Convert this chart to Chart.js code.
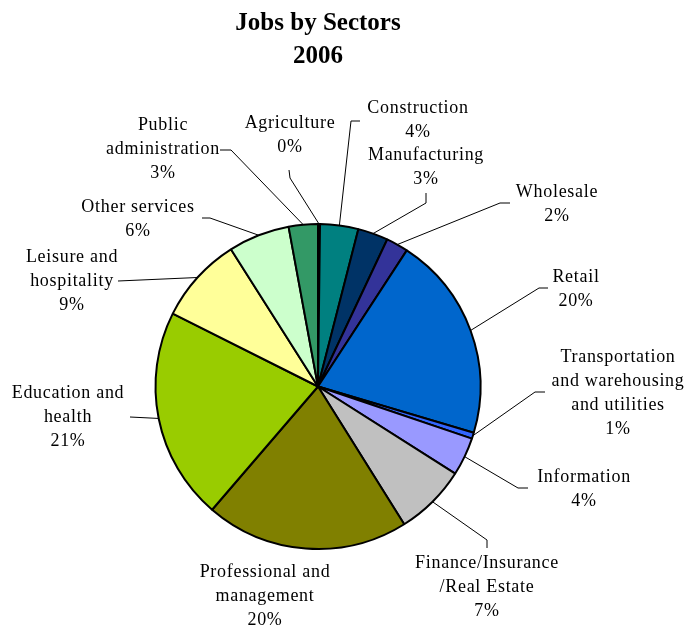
<!DOCTYPE html>
<html>
<head>
<meta charset="utf-8">
<script src="https://cdn.jsdelivr.net/npm/chart.js@4"></script>
<style>
  html, body { margin: 0; padding: 0; background: #fff; }
</style>
</head>
<body>
<canvas id="chart" width="688" height="629"></canvas>
<script>
// data (share of jobs, %)
const categories = [
    ['Agriculture'],
    ['Construction'],
    ['Manufacturing'],
    ['Wholesale'],
    ['Retail'],
    ['Transportation', 'and warehousing', 'and utilities'],
    ['Information'],
    ['Finance/Insurance', '/Real Estate'],
    ['Professional and', 'management'],
    ['Education and', 'health'],
    ['Leisure and', 'hospitality'],
    ['Other services'],
    ['Public', 'administration']
];
const shares = [0.2, 3.8, 3.0, 2.2, 20.4, 0.6, 3.8, 7.1, 20.2, 21.1, 8.6, 6.1, 2.9];
const colors = ['#FFFF99', '#008080', '#003366', '#333399', '#0066CC', '#3366FF', '#9999FF',
                '#C0C0C0', '#808000', '#99CC00', '#FFFF99', '#CCFFCC', '#339966'];

// label placement: text centre (first line) and leader elbow points, near label first
const labelLayout = [
    { x: 290, y: 123, leader: [[289, 170], [290, 178]] },
    { x: 418, y: 108, leader: [[360, 121], [351, 121]] },
    { x: 426, y: 155, leader: [[426, 193], [426, 203]] },
    { x: 557, y: 192, leader: [[510, 203], [500, 203]] },
    { x: 576, y: 277, leader: [[548, 288], [539, 288]] },
    { x: 618, y: 357, leader: [[545, 392], [535, 392]] },
    { x: 584, y: 477, leader: [[528, 488], [518, 488]] },
    { x: 487, y: 563, leader: [[487, 548], [487, 540]] },
    { x: 265, y: 572, leader: null },
    { x: 68,  y: 393, leader: [[130, 417]] },
    { x: 72,  y: 257, leader: [[118, 281]] },
    { x: 138, y: 207, leader: [[202, 218], [210, 218]] },
    { x: 163, y: 125, leader: [[220, 150], [231, 150]] }
];

const labelPlugin = {
    id: 'sliceLabels',
    afterDatasetsDraw(chart) {
        const ctx = chart.ctx;
        const meta = chart.getDatasetMeta(0);
        const total = shares.reduce((a, b) => a + b, 0);
        ctx.save();
        ctx.strokeStyle = '#000';
        ctx.lineWidth = 1;
        meta.data.forEach((arc, i) => {
            const p = arc.getProps(['x', 'y', 'startAngle', 'endAngle', 'outerRadius'], true);
            const mid = (p.startAngle + p.endAngle) / 2;
            const ax = p.x + Math.cos(mid) * p.outerRadius;
            const ay = p.y + Math.sin(mid) * p.outerRadius;
            const lay = labelLayout[i];
            if (lay.leader) {
                ctx.beginPath();
                ctx.moveTo(lay.leader[0][0], lay.leader[0][1]);
                for (let k = 1; k < lay.leader.length; k++) {
                    ctx.lineTo(lay.leader[k][0], lay.leader[k][1]);
                }
                ctx.lineTo(ax, ay);
                ctx.stroke();
            }
            const lines = categories[i].concat([Math.round(shares[i] / total * 100) + '%']);
            ctx.fillStyle = '#000';
            ctx.font = '18px "Liberation Serif", "Times New Roman", serif';
            ctx.letterSpacing = '0.7px';
            ctx.textAlign = 'center';
            ctx.textBaseline = 'middle';
            lines.forEach((t, k) => ctx.fillText(t, lay.x, lay.y + k * 24));
        });
        ctx.restore();
    }
};

new Chart(document.getElementById('chart'), {
    type: 'pie',
    data: {
        labels: categories,
        datasets: [{
            data: shares,
            backgroundColor: colors,
            borderColor: '#000',
            borderWidth: 2
        }]
    },
    options: {
        responsive: false,
        animation: false,
        layout: {
            padding: { left: 154, right: 206, top: 0, bottom: 79 }
        },
        plugins: {
            legend: { display: false },
            tooltip: { enabled: false },
            title: {
                display: true,
                fullSize: false,
                text: ['Jobs by Sectors', '2006'],
                color: '#000',
                font: { family: '"Liberation Serif", "Times New Roman", serif', size: 25, weight: 'bold', lineHeight: 1.32 },
                padding: { top: 7, bottom: 150 }
            }
        }
    },
    plugins: [labelPlugin]
});
</script>
</body>
</html>
